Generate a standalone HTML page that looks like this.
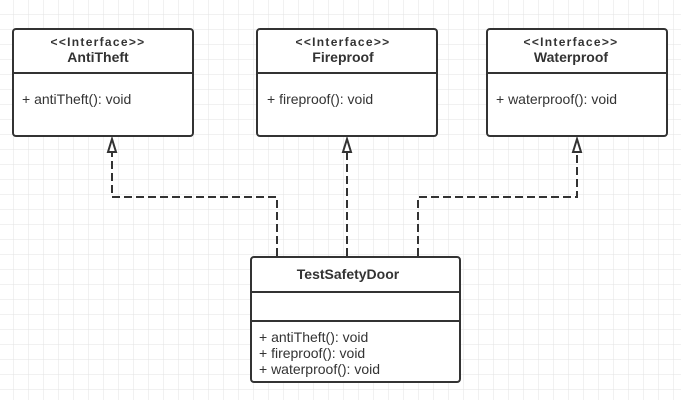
<!DOCTYPE html>
<html><head><meta charset="utf-8"><style>
html,body{margin:0;padding:0;width:681px;height:400px;overflow:hidden;background:#fff}
svg text{font-family:"Liberation Sans",sans-serif;fill:#333}
</style></head><body>
<svg width="681" height="400" xmlns="http://www.w3.org/2000/svg">
<defs>
<pattern id="g" x="13" y="14" width="15" height="15" patternUnits="userSpaceOnUse">
<path d="M0 0H15M0 0V15" stroke="#e3e3e3" stroke-width="1" fill="none"/>
</pattern>
</defs>
<rect width="681" height="400" fill="url(#g)"/>
<g fill="#fff" stroke="#333" stroke-width="2">
<rect x="13" y="29" width="180" height="107" rx="3"/>
<rect x="257" y="29" width="180" height="107" rx="3"/>
<rect x="487" y="29" width="180" height="107" rx="3"/>
<rect x="251" y="257" width="209" height="125" rx="3"/>
</g>
<g stroke="#333" stroke-width="2">
<line x1="13" y1="73" x2="193" y2="73"/>
<line x1="257" y1="73" x2="437" y2="73"/>
<line x1="487" y1="73" x2="667" y2="73"/>
<line x1="251" y1="292" x2="460" y2="292"/>
<line x1="251" y1="321" x2="460" y2="321"/>
</g>
<g fill="none" stroke="#333" stroke-width="2" stroke-dasharray="8,4">
<path d="M277 256V197H112V152"/>
<path d="M347 256V152"/>
<path d="M418 256V197H577V152"/>
</g>
<g fill="#fff" stroke="#333" stroke-width="2">
<path d="M112 139L108 152H116Z"/>
<path d="M347 139L343 152H351Z"/>
<path d="M577 139L573 152H581Z"/>
</g>
<g font-size="12" font-weight="bold" text-anchor="middle" letter-spacing="1.3">
<text x="98" y="46">&lt;&lt;Interface&gt;&gt;</text>
<text x="343" y="46">&lt;&lt;Interface&gt;&gt;</text>
<text x="571" y="46">&lt;&lt;Interface&gt;&gt;</text>
</g>
<g font-size="14" font-weight="bold" text-anchor="middle">
<text x="98" y="62">AntiTheft</text>
<text x="343" y="62">Fireproof</text>
<text x="571" y="62">Waterproof</text>
<text x="348" y="279">TestSafetyDoor</text>
</g>
<g font-size="14">
<text x="22" y="104">+ antiTheft(): void</text>
<text x="267" y="104">+ fireproof(): void</text>
<text x="496" y="104">+ waterproof(): void</text>
<text x="259" y="342">+ antiTheft(): void</text>
<text x="259" y="358">+ fireproof(): void</text>
<text x="259" y="374">+ waterproof(): void</text>
</g>
</svg>
</body></html>
